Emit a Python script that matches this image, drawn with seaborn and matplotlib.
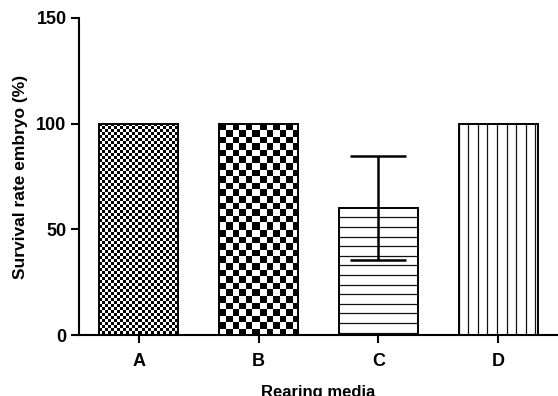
import numpy as np
import pandas as pd
import matplotlib
matplotlib.use("Agg")
import matplotlib.pyplot as plt
import seaborn as sns

categories = ["A", "B", "C", "D"]
means = [100, 100, 60, 100]
sds = [0, 0, 24.5, 0]
yticks = [0, 50, 100, 150]

sns.set_style("ticks")
plt.rcParams["font.family"] = ["Liberation Sans", "DejaVu Sans"]
plt.rcParams["font.weight"] = "bold"
plt.rcParams["text.color"] = "black"
plt.rcParams["axes.labelcolor"] = "black"
plt.rcParams["xtick.color"] = "black"
plt.rcParams["ytick.color"] = "black"

df = pd.DataFrame({"media": categories, "rate": means, "sd": sds})

fig = plt.figure(figsize=(5.58, 3.96), dpi=100)
ax = fig.add_axes([79 / 558, 1 - 335 / 396, 1 - 79 / 558, (335 - 18) / 396])

sns.barplot(data=df, x="media", y="rate", color="white", saturation=1,
            edgecolor="black", linewidth=1.4, width=0.66, errorbar=None, ax=ax)
ax.set_xlim(-0.5, 3.5)
ax.set_ylim(0, 150)
ax.set_yticks(yticks)
ax.set_autoscale_on(False)

for s in ["top", "right"]:
    ax.spines[s].set_visible(False)
for s in ["left", "bottom"]:
    ax.spines[s].set_linewidth(1.5)
    ax.spines[s].set_color("black")
ax.tick_params(axis="both", width=1.5, length=6, color="black",
               labelsize=13, labelcolor="black")
ax.tick_params(axis="x", pad=7)
ax.tick_params(axis="y", pad=3)
for lab in ax.get_xticklabels() + ax.get_yticklabels():
    lab.set_fontweight("bold")

ax.set_xlabel("Rearing media", fontsize=12, fontweight="bold", color="black", labelpad=11)
ax.set_ylabel("Survival rate embryo (%)", fontsize=12.5, fontweight="bold", color="black", labelpad=6)

# error bars (only where SD > 0)
xpos = np.arange(len(categories))
mask = np.array(sds) > 0
ax.errorbar(xpos[mask], np.array(means)[mask], yerr=np.array(sds)[mask],
            fmt="none", ecolor="black", elinewidth=1.8, capsize=20, capthick=1.8,
            zorder=5)

# fill patterns
fig.canvas.draw()
renderer = fig.canvas.get_renderer()
px_x = ax.transData.transform((1, 0))[0] - ax.transData.transform((0, 0))[0]
px_y = ax.transData.transform((0, 1))[1] - ax.transData.transform((0, 0))[1]


def checker(cell, w, h):
    yy, xx = np.mgrid[0:h, 0:w]
    m = ((np.floor(xx / cell)).astype(int) + (np.floor(yy / cell)).astype(int)) % 2 == 0
    img = np.ones((h, w, 3))
    img[m] = 0
    return img


kinds = ["fine", "coarse", "hlines", "vlines"]
for patch, kind in zip(ax.patches, kinds):
    patch.set_facecolor("none")
    patch.set_zorder(2)
    x0, y0 = patch.get_x(), patch.get_y()
    x1, y1 = x0 + patch.get_width(), y0 + patch.get_height()
    if kind in ("fine", "coarse"):
        bb = patch.get_window_extent(renderer)
        w = max(int(round(bb.width)), 1)
        h = max(int(round(bb.height)), 1)
        cell = 3 if kind == "fine" else 6.6
        im = ax.imshow(checker(cell, w, h), extent=(x0, x1, y0, y1), origin="upper",
                       interpolation="nearest", aspect="auto", zorder=1)
        im.set_clip_path(patch)
    elif kind == "hlines":
        step = 9.6 / px_y
        ys = np.arange(y0 + 2.5 / px_y, y1, step)
        lc = ax.hlines(ys, x0, x1, colors="#111111", linewidth=0.9, zorder=1)
        lc.set_clip_path(patch)
    else:
        step = 9.6 / px_x
        xs = np.arange(x0, x1, step)
        lc = ax.vlines(xs, y0, y1, colors="#111111", linewidth=0.9, zorder=1)
        lc.set_clip_path(patch)

ax.set_xlim(-0.5, 3.5)
ax.set_ylim(0, 150)

fig.savefig("out.png", dpi=100)
